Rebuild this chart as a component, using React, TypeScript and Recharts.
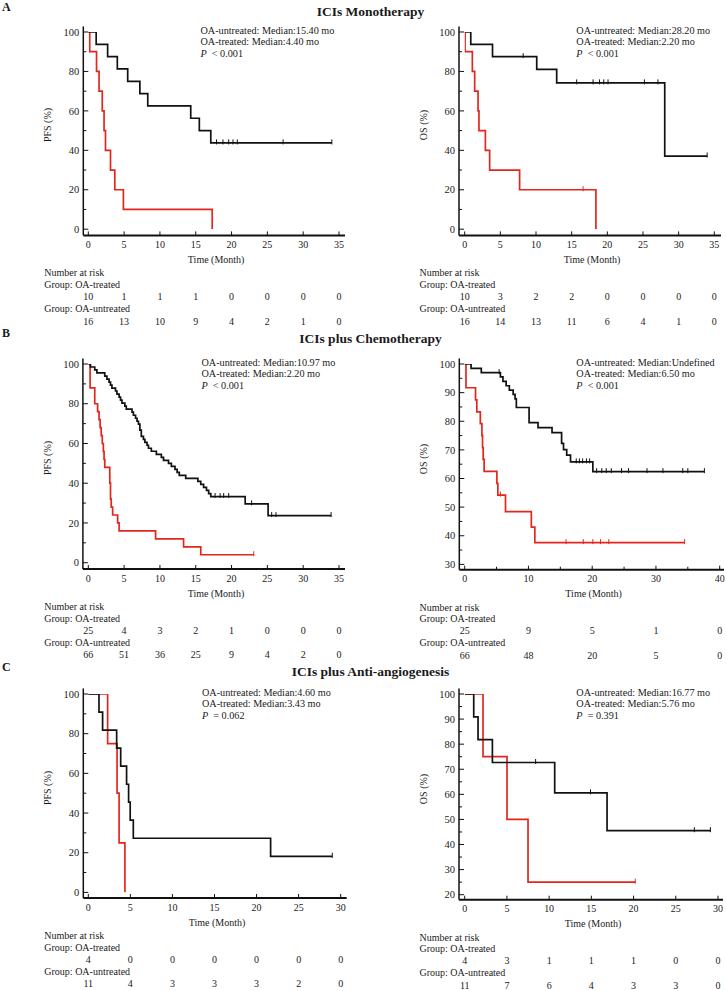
import React from 'react';
import { ComposedChart, Line, Scatter, XAxis, YAxis } from 'recharts';

const FONT = '"Liberation Serif", "Times New Roman", serif';
const TEXT = '#1a1a1a';
const BLACK = '#111111';
const RED = '#e3261c';

// ---------- DATA (time in months, survival in %) ----------
// A: ICIs monotherapy
const aPfsUntreated = [[0, 100], [1.1, 93.75], [2.7, 87.5], [4.05, 81.25], [5.5, 75], [7.2, 68.75], [8.3, 62.5], [14.3, 56.25], [15.5, 50], [17.1, 43.75], [34, 43.75]];
const aPfsUntreatedCens = [17.9, 18.8, 19.6, 20.2, 20.8, 27.2, 34];
const aPfsTreated = [[0, 100], [0.2, 90], [1.15, 80], [1.5, 70], [1.95, 60], [2.2, 50], [2.4, 40], [3.1, 30], [3.7, 20], [4.9, 10], [17.3, 0]];
const aOsUntreated = [[0, 100], [0.85, 93.75], [3.9, 87.5], [10.1, 81.0], [12.9, 74.2], [28.05, 37.1], [34, 37.1]];
const aOsUntreatedCens = [[8.2, 87.5], [15.7, 74.2], [18.0, 74.2], [18.9, 74.2], [19.5, 74.2], [20.1, 74.2], [25.2, 74.2], [27.1, 74.2], [34, 37.1]];
const aOsTreated = [[0, 100], [0.05, 90], [1.07, 80], [1.4, 70], [1.87, 60], [2.0, 50], [2.9, 40], [3.5, 30], [7.7, 20], [18.4, 0]];
const aOsTreatedCens = [[16.6, 20]];

// B: ICIs plus chemotherapy
const bPfsUntreated = [[0, 100], [0.3, 98.5], [0.9, 97], [1.2, 95.5], [2.3, 93.9], [2.6, 92.4], [2.9, 90.9], [3.1, 89.4], [3.3, 87.9], [3.8, 86.4], [4.0, 84.8], [4.3, 83.3], [4.5, 81.8], [4.7, 80.3], [5.1, 78.8], [5.3, 77.3], [6.1, 75.8], [6.3, 74.2], [6.6, 72.7], [6.8, 71.2], [7.0, 69.7], [7.2, 66.7], [7.4, 63.6], [7.7, 62.1], [7.9, 60.6], [8.2, 59.1], [8.4, 57.6], [8.8, 56.1], [9.5, 54.5], [10.2, 53.0], [10.5, 51.5], [11.2, 50.0], [11.6, 48.5], [12.1, 47.0], [12.4, 45.5], [12.7, 43.9], [13.6, 42.4], [15.3, 40.9], [15.7, 39.4], [16.1, 37.9], [16.5, 36.4], [16.8, 34.8], [17.1, 33.3], [21.9, 29.6], [25.1, 23.7], [33.9, 23.7]];
const bPfsUntreatedCens = [[17.7, 33.3], [18.4, 33.3], [18.9, 33.3], [19.6, 33.3], [22.8, 29.6], [25.6, 23.7], [26.2, 23.7], [33.9, 23.7]];
const bPfsTreated = [[0, 100], [0.25, 88], [0.9, 80], [1.3, 76], [1.5, 72], [1.65, 68], [1.8, 64], [1.95, 60], [2.1, 56], [2.2, 52], [2.3, 48], [3.0, 40], [3.1, 32], [3.2, 28], [3.4, 24], [4.1, 20], [4.3, 16], [9.4, 12], [13.3, 8], [15.7, 4], [23.1, 4]];
const bPfsTreatedCens = [[23.1, 4]];
const bOsUntreated = [[0, 100], [1.0, 98.5], [2.6, 97.0], [5.6, 95.5], [6.0, 93.9], [6.5, 92.4], [7.0, 90.9], [7.6, 89.4], [7.9, 87.8], [8.1, 84.8], [10.1, 79.5], [11.5, 77.8], [13.7, 76.0], [15.2, 72.3], [15.5, 70.1], [16.0, 68.2], [16.6, 65.8], [20.1, 62.4], [37.6, 62.4]];
const bOsUntreatedCens = [[5.4, 97.0], [17.5, 65.8], [18.0, 65.8], [18.5, 65.8], [19.1, 65.8], [19.6, 65.8], [20.7, 62.4], [21.5, 62.4], [22.2, 62.4], [23.0, 62.4], [24.6, 62.4], [25.7, 62.4], [28.6, 62.4], [31.1, 62.4], [34.2, 62.4], [35.0, 62.4], [37.6, 62.4]];
const bOsTreated = [[0, 100], [0.2, 91.7], [1.7, 87.5], [1.9, 83.3], [2.45, 79.2], [2.7, 75.0], [2.8, 70.8], [2.9, 66.7], [3.05, 62.5], [5.05, 58.3], [5.2, 54.2], [6.4, 48.4], [10.45, 43.0], [11.0, 37.6], [34.5, 37.6]];
const bOsTreatedCens = [[5.6, 54.2], [15.9, 37.6], [18.6, 37.6], [20.1, 37.6], [21.3, 37.6], [22.6, 37.6], [34.5, 37.6]];

// C: ICIs plus anti-angiogenesis
const cPfsUntreated = [[0, 100], [1.27, 90.9], [1.7, 81.8], [3.37, 72.7], [3.85, 63.6], [4.55, 54.5], [4.79, 45.5], [4.98, 36.4], [5.35, 27.3], [21.67, 18.2], [29.0, 18.2]];
const cPfsUntreatedCens = [[29.0, 18.2]];
const cPfsTreated = [[0, 100], [2.3, 75], [3.42, 50], [3.66, 25], [4.35, 0]];
const cOsUntreated = [[0, 100], [1.07, 90.9], [1.58, 81.8], [3.28, 72.7], [10.66, 60.6], [16.86, 45.5], [29.1, 45.5]];
const cOsUntreatedCens = [[8.4, 72.7], [14.9, 60.6], [27.2, 45.5], [29.1, 45.5]];
const cOsTreated = [[0, 100], [2.17, 75], [5.01, 50], [7.5, 25], [20.2, 25]];
const cOsTreatedCens = [[20.2, 25]];

// Number at risk
const aPfsRiskTreated = [10, 1, 1, 1, 0, 0, 0, 0];
const aPfsRiskUntreated = [16, 13, 10, 9, 4, 2, 1, 0];
const aOsRiskTreated = [10, 3, 2, 2, 0, 0, 0, 0];
const aOsRiskUntreated = [16, 14, 13, 11, 6, 4, 1, 0];
const bPfsRiskTreated = [25, 4, 3, 2, 1, 0, 0, 0];
const bPfsRiskUntreated = [66, 51, 36, 25, 9, 4, 2, 0];
const bOsRiskTreated = [25, 9, 5, 1, 0];
const bOsRiskUntreated = [66, 48, 20, 5, 0];
const cPfsRiskTreated = [4, 0, 0, 0, 0, 0, 0];
const cPfsRiskUntreated = [11, 4, 3, 3, 3, 2, 0];
const cOsRiskTreated = [4, 3, 1, 1, 1, 0, 0];
const cOsRiskUntreated = [11, 7, 6, 4, 3, 3, 0];

// Ticks
const ticks35 = [0, 5, 10, 15, 20, 25, 30, 35];
const ticks30 = [0, 5, 10, 15, 20, 25, 30];
const ticks40 = [0, 5, 10, 15, 20, 25, 30, 35, 40];
const labels40 = [0, 10, 20, 30, 40];
const yTicks0 = [0, 10, 20, 30, 40, 50, 60, 70, 80, 90, 100];
const yLabels0 = [0, 20, 40, 60, 80, 100];
const yTicks30 = [30, 35, 40, 45, 50, 55, 60, 65, 70, 75, 80, 85, 90, 95, 100];
const yLabels30 = [30, 40, 50, 60, 70, 80, 90, 100];
const yTicks20 = [20, 25, 30, 35, 40, 45, 50, 55, 60, 65, 70, 75, 80, 85, 90, 95, 100];
const yLabels20 = [20, 30, 40, 50, 60, 70, 80, 90, 100];

const titles = ['ICIs Monotherapy', 'ICIs plus Chemotherapy', 'ICIs plus Anti-angiogenesis'];

// ---------- helpers ----------
const pts = (a: number[][]) => a.map(([t, s]) => ({ t, s }));
const censAt = (ts: number[], s: number) => ts.map((t) => ({ t, s }));

type Panel = {
  L: number; PL: number; PR: number; padL: number; padR: number;
  Y100: number; Ybot: number; axisY: number;
  xMax: number; xTicks: number[]; xLabels: number[];
  yMin: number; yTicks: number[]; yLabels: number[];
  yTitle: string; annX: number; ann: string[]; p: string;
  black: { t: number; s: number }[]; red: { t: number; s: number }[];
  blackCens: { t: number; s: number }[]; redCens: { t: number; s: number }[];
  riskT: number[]; riskU: number[];
};

const panels: Panel[] = [
  {
    L: 0, PL: 83.3, PR: 345, padL: 5, padR: 6, Y100: 32.3, Ybot: 229.5, axisY: 235.7,
    xMax: 35, xTicks: ticks35, xLabels: ticks35, yMin: 0, yTicks: yTicks0, yLabels: yLabels0,
    yTitle: 'PFS (%)', annX: 200.5, ann: ['OA-untreated: Median:15.40 mo', 'OA-treated: Median:4.40 mo'], p: '< 0.001',
    black: pts(aPfsUntreated), red: pts(aPfsTreated), blackCens: censAt(aPfsUntreatedCens, 43.75), redCens: [],
    riskT: aPfsRiskTreated, riskU: aPfsRiskUntreated,
  },
  {
    L: 363, PL: 459, PR: 721, padL: 5.7, padR: 6.7, Y100: 32.3, Ybot: 229.5, axisY: 235.7,
    xMax: 35, xTicks: ticks35, xLabels: ticks35, yMin: 0, yTicks: yTicks0, yLabels: yLabels0,
    yTitle: 'OS (%)', annX: 576.3, ann: ['OA-untreated: Median:28.20 mo', 'OA-treated: Median:2.20 mo'], p: '< 0.001',
    black: pts(aOsUntreated), red: pts(aOsTreated), blackCens: pts(aOsUntreatedCens), redCens: pts(aOsTreatedCens),
    riskT: aOsRiskTreated, riskU: aOsRiskUntreated,
  },
  {
    L: 0, PL: 82.9, PR: 345, padL: 5.4, padR: 6, Y100: 364.3, Ybot: 563, axisY: 569.3,
    xMax: 35, xTicks: ticks35, xLabels: ticks35, yMin: 0, yTicks: yTicks0, yLabels: yLabels0,
    yTitle: 'PFS (%)', annX: 201.5, ann: ['OA-untreated: Median:10.97 mo', 'OA-treated: Median:2.20 mo'], p: '< 0.001',
    black: pts(bPfsUntreated), red: pts(bPfsTreated), blackCens: pts(bPfsUntreatedCens), redCens: pts(bPfsTreatedCens),
    riskT: bPfsRiskTreated, riskU: bPfsRiskUntreated,
  },
  {
    L: 363, PL: 459.3, PR: 724, padL: 5.4, padR: 4.3, Y100: 364.3, Ybot: 564.7, axisY: 570,
    xMax: 40, xTicks: ticks40, xLabels: labels40, yMin: 30, yTicks: yTicks30, yLabels: yLabels30,
    yTitle: 'OS (%)', annX: 576.3, ann: ['OA-untreated: Median:Undefined', 'OA-treated: Median:6.50 mo'], p: '< 0.001',
    black: pts(bOsUntreated), red: pts(bOsTreated), blackCens: pts(bOsUntreatedCens), redCens: pts(bOsTreatedCens),
    riskT: bOsRiskTreated, riskU: bOsRiskUntreated,
  },
  {
    L: 0, PL: 83.3, PR: 346.7, padL: 5, padR: 6, Y100: 694.3, Ybot: 892.7, axisY: 898.3,
    xMax: 30, xTicks: ticks30, xLabels: ticks30, yMin: 0, yTicks: yTicks0, yLabels: yLabels0,
    yTitle: 'PFS (%)', annX: 202, ann: ['OA-untreated: Median:4.60 mo', 'OA-treated: Median:3.43 mo'], p: '= 0.062',
    black: pts(cPfsUntreated), red: pts(cPfsTreated), blackCens: pts(cPfsUntreatedCens), redCens: [],
    riskT: cPfsRiskTreated, riskU: cPfsRiskUntreated,
  },
  {
    L: 363, PL: 459, PR: 723, padL: 5.7, padR: 5, Y100: 694.3, Ybot: 895, axisY: 900,
    xMax: 30, xTicks: ticks30, xLabels: ticks30, yMin: 20, yTicks: yTicks20, yLabels: yLabels20,
    yTitle: 'OS (%)', annX: 576.3, ann: ['OA-untreated: Median:16.77 mo', 'OA-treated: Median:5.76 mo'], p: '= 0.391',
    black: pts(cOsUntreated), red: pts(cOsTreated), blackCens: pts(cOsUntreatedCens), redCens: pts(cOsTreatedCens),
    riskT: cOsRiskTreated, riskU: cOsRiskUntreated,
  },
];

const Txt = (props: any) => {
  const { x, y, size = 10, bold = false, anchor = 'start', rotate = 0, children } = props;
  const tx = anchor === 'middle' ? '-50%' : anchor === 'end' ? '-100%' : '0';
  return (
    <div
      style={{
        position: 'absolute', left: x, top: y, whiteSpace: 'nowrap',
        transform: `translate(${tx}, -50%)${rotate ? ` rotate(${rotate}deg)` : ''}`,
        fontFamily: FONT, fontSize: size, fontWeight: bold ? 'bold' : 'normal',
        color: TEXT, lineHeight: 1,
      }}
    >
      {children}
    </div>
  );
};

const censorShape = (color: string) => (props: any) => {
  const { cx, cy } = props;
  if (cx == null || cy == null) return <g />;
  return <line x1={cx} x2={cx} y1={cy - 3.5} y2={cy + 1.5} stroke={color} strokeWidth={1} />;
};

function KMChart({ p }: { p: Panel }) {
  const W = 363;
  const T = p.Y100 - 30;
  const XH = 100;
  const YW = 30;
  const H = p.axisY + XH - T;
  const margin = { left: p.PL - p.L - YW, right: p.L + W - p.PR, top: p.Y100 - 5.6 - T, bottom: 0 };

  const xTick = (props: any) => {
    const { x, y, payload } = props;
    const v = payload.value;
    const idx = p.xLabels.indexOf(v);
    const major = idx >= 0;
    const ts = { fontFamily: FONT, fontSize: 10, fill: TEXT, textAnchor: 'middle' as const };
    return (
      <g>
        <line x1={x} x2={x} y1={y} y2={y - (major ? 4 : 3)} stroke={BLACK} strokeWidth={1} />
        {major && <text x={x} y={y + 12.7} {...ts}>{v}</text>}
        {major && <text x={x} y={y + 64.6} {...ts}>{p.riskT[idx]}</text>}
        {major && <text x={x} y={y + 89.2} {...ts}>{p.riskU[idx]}</text>}
      </g>
    );
  };

  const yTick = (props: any) => {
    const { x, y, payload } = props;
    const v = payload.value;
    const major = p.yLabels.indexOf(v) >= 0;
    return (
      <g>
        <line x1={x} x2={x + (major ? 5 : 3)} y1={y} y2={y} stroke={BLACK} strokeWidth={1} />
        {major && (
          <text x={x - 4} y={y + 3.7} textAnchor="end" fontFamily={FONT} fontSize={10.5} fill={TEXT}>{v}</text>
        )}
      </g>
    );
  };

  return (
    <div style={{ position: 'absolute', left: p.L, top: T }}>
      <ComposedChart width={W} height={H} margin={margin}>
        <XAxis
          type="number" dataKey="t" domain={[0, p.xMax]} ticks={p.xTicks} interval={0}
          padding={{ left: p.padL, right: p.padR }} height={XH}
          tickSize={0} tickMargin={0} tickLine={false} tick={xTick}
          axisLine={{ stroke: BLACK, strokeWidth: 2 }} allowDataOverflow
        />
        <YAxis
          type="number" domain={[p.yMin, 100]} ticks={p.yTicks} interval={0}
          padding={{ top: 5.6, bottom: p.axisY - p.Ybot }} width={YW}
          tickSize={0} tickMargin={0} tickLine={false} tick={yTick}
          axisLine={{ stroke: BLACK, strokeWidth: 1.5 }} allowDataOverflow
        />
        <Line data={p.red} dataKey="s" type="stepAfter" stroke={RED} strokeWidth={1.7} dot={false} isAnimationActive={false} />
        <Line data={p.black} dataKey="s" type="stepAfter" stroke={BLACK} strokeWidth={1.7} dot={false} isAnimationActive={false} />
        <Scatter data={p.redCens} dataKey="s" fill={RED} shape={censorShape(RED)} isAnimationActive={false} />
        <Scatter data={p.blackCens} dataKey="s" fill={BLACK} shape={censorShape(BLACK)} isAnimationActive={false} />
      </ComposedChart>
    </div>
  );
}

function PanelTexts({ p }: { p: Panel }) {
  const left = p.L === 0;
  const nx = left ? 44.3 : 419.5;
  const yx = left ? 48.3 : 424;
  const ymid = (p.Y100 + p.Ybot) / 2 - 5.5;
  const tcx = (p.PL + p.PR) / 2 + 2;
  return (
    <>
      <Txt x={yx} y={ymid} anchor="middle" rotate={-90} size={10}>{p.yTitle}</Txt>
      <Txt x={p.annX} y={p.Y100 - 1.5} size={10.2}>{p.ann[0]}</Txt>
      <Txt x={p.annX} y={p.Y100 + 10} size={10.2}>{p.ann[1]}</Txt>
      <Txt x={p.annX} y={p.Y100 + 21.3} size={10.2}><i>P</i>&nbsp; {p.p}</Txt>
      <Txt x={tcx} y={p.axisY + 24.3} anchor="middle" size={10}>Time (Month)</Txt>
      <Txt x={nx} y={p.axisY + 37.5} size={10}>Number at risk</Txt>
      <Txt x={nx} y={p.axisY + 49.3} size={10}>Group: OA-treated</Txt>
      <Txt x={nx} y={p.axisY + 73.3} size={10}>Group: OA-untreated</Txt>
    </>
  );
}

export default function App() {
  const rowTitleY = [12, 339, 671.7];
  const rowLetterY = [7, 333, 667.3];
  const letters = ['A', 'B', 'C'];
  return (
    <div style={{ position: 'absolute', left: 0, top: 0, width: 726, height: 991, background: '#fff', overflow: 'hidden' }}>
      {panels.map((p, i) => <KMChart key={'c' + i} p={p} />)}
      {panels.map((p, i) => <PanelTexts key={'t' + i} p={p} />)}
      {letters.map((l, i) => (
        <Txt key={l} x={2} y={rowLetterY[i]} size={12} bold>{l}</Txt>
      ))}
      {titles.map((t, i) => (
        <Txt key={t} x={370.5} y={rowTitleY[i]} size={13.5} bold anchor="middle">{t}</Txt>
      ))}
    </div>
  );
}
